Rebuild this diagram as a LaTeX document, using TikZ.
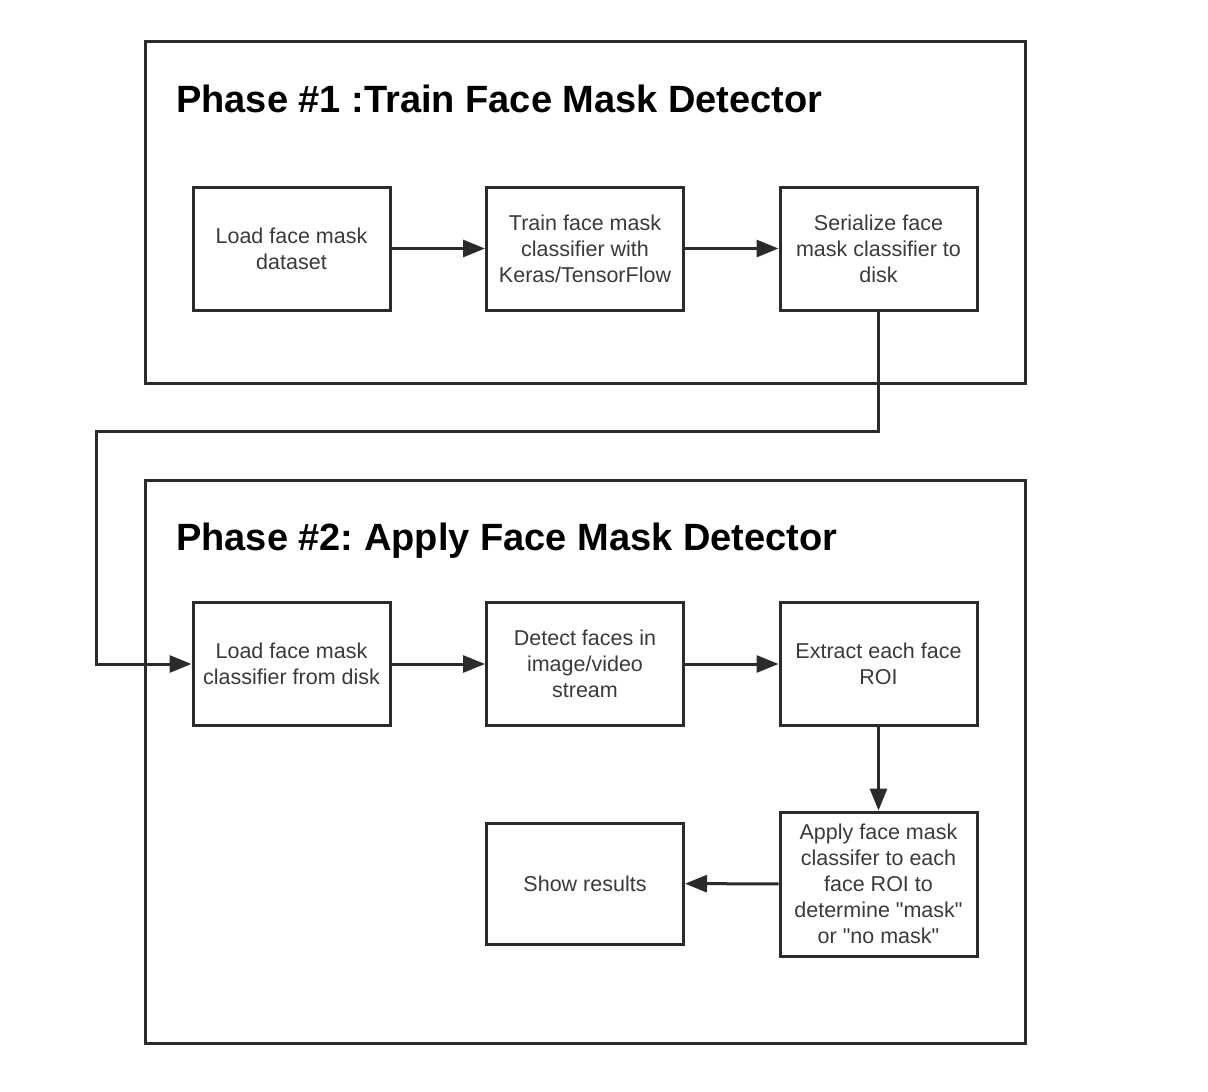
\documentclass[tikz,border=0pt]{standalone}
\usepackage{fontspec}
\setmainfont{Liberation Sans}[Ligatures=TeXOff]
\usetikzlibrary{arrows.meta}
\definecolor{edge}{HTML}{2B2B2B}
\definecolor{ink}{HTML}{3A3A3A}
\frenchspacing
\begin{document}
\begin{tikzpicture}[x=1pt,y=-1pt,
  frame/.style={draw=edge, line width=3pt, inner sep=0pt},
  stepbox/.style={draw=edge, line width=3pt, minimum width=197pt, minimum height=123pt,
    inner sep=0pt, align=center, text=ink,
    font=\fontsize{21.5pt}{26pt}\selectfont},
  title/.style={anchor=base west, inner sep=0pt,
    font=\fontsize{38pt}{40pt}\selectfont\bfseries},
  flow/.style={draw=edge, line width=3pt, -{Triangle[length=22pt,width=17pt]}}]
\useasboundingbox (0,0) rectangle (1208,1092);

% phase frames
\node[frame, minimum width=880pt, minimum height=342pt] (phaseone) at (585,212) {};
\node[frame, minimum width=880pt, minimum height=563pt] (phasetwo) at (585,761.5) {};

\node[title] (titleone) at (176,112) {Phase \#1 :Train Face Mask Detector};
\node[title] (titletwo) at (176,550) {Phase \#2: Apply Face Mask Detector};

% phase 1 steps
\node[stepbox] (load)  at (291.5,248.5) {Load face mask\\dataset};
\node[stepbox] (train) at (585,248.5) {Train face mask\\classifier with\\Keras/TensorFlow};
\node[stepbox] (save)  at (878.5,248.5) {Serialize face\\mask classifier to\\disk};

% phase 2 steps
\node[stepbox] (loadclf) at (291.5,664) {Load face mask\\classifier from disk};
\node[stepbox] (detect)  at (585,664) {Detect faces in\\image/video\\stream};
\node[stepbox] (roi)     at (878.5,664) {Extract each face\\ROI};
\node[stepbox, minimum height=144pt] (apply) at (878.5,884)
  {Apply face mask\\classifer to each\\face ROI to\\determine "mask"\\or "no mask"};
\node[stepbox, minimum height=121pt] (show) at (585,883.5) {Show results};

% connectors
\coordinate (dropR) at (878.5,431);
\coordinate (dropL) at (96,431);
\coordinate (riseL) at (96,664);

\draw[flow] (load) -- (train);
\draw[flow] (train) -- (save);
\draw[flow] (save.south) -- (dropR) -- (dropL) -- (riseL) -- (loadclf.west);
\draw[flow] (loadclf) -- (detect);
\draw[flow] (detect) -- (roi);
\draw[flow] (roi) -- (apply);
\draw[flow] (apply) -- (show);
\end{tikzpicture}
\end{document}
